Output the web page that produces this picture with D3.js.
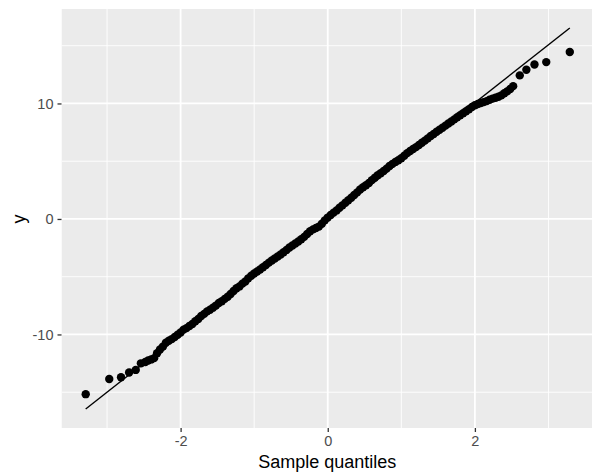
<!DOCTYPE html>
<html>
<head>
<meta charset="utf-8">
<script src="https://cdn.jsdelivr.net/npm/d3@7"></script>
<style>
  html, body { margin: 0; padding: 0; background: #ffffff; }
  svg { display: block; }
  text { font-family: "Liberation Sans", Arial, Helvetica, sans-serif; }
</style>
</head>
<body>
<svg id="chart" width="592" height="476"></svg>
<script>
// Theoretical quantiles (x) and sample values (y)
const theoretical = [
  -3.29, -2.97, -2.81, -2.70, -2.61, -2.54,
  -2.48, -2.44, -2.40, -2.36, -2.32, -2.28, -2.24, -2.20, -2.16, -2.12,
  -2.08, -2.04, -2.00, -1.96, -1.92, -1.88, -1.84, -1.80, -1.76, -1.72,
  -1.68, -1.64, -1.60, -1.56, -1.52, -1.48, -1.44, -1.40, -1.36, -1.32,
  -1.28, -1.24, -1.20, -1.16, -1.12, -1.08, -1.04, -1.00, -0.96, -0.92,
  -0.88, -0.84, -0.80, -0.76, -0.72, -0.68, -0.64, -0.60, -0.56, -0.52,
  -0.48, -0.44, -0.40, -0.36, -0.32, -0.28, -0.24, -0.20, -0.16, -0.12,
  -0.08, -0.04, 0.00, 0.04, 0.08, 0.12, 0.16, 0.20, 0.24, 0.28,
  0.32, 0.36, 0.40, 0.44, 0.48, 0.52, 0.56, 0.60, 0.64, 0.68,
  0.72, 0.76, 0.80, 0.84, 0.88, 0.92, 0.96, 1.00, 1.04, 1.08,
  1.12, 1.16, 1.20, 1.24, 1.28, 1.32, 1.36, 1.40, 1.44, 1.48,
  1.52, 1.56, 1.60, 1.64, 1.68, 1.72, 1.76, 1.80, 1.84, 1.88,
  1.92, 1.96, 2.00, 2.04, 2.08, 2.12, 2.16, 2.20, 2.24, 2.28,
  2.32, 2.36, 2.40, 2.44, 2.48, 2.52,
  2.61, 2.70, 2.81, 2.97, 3.29
];
const sample = [
  -15.17, -13.85, -13.70, -13.30, -13.07, -12.50,
  -12.38, -12.25, -12.16, -12.05, -11.62, -11.30, -11.05, -10.72, -10.55, -10.40,
  -10.22, -10.02, -9.83, -9.58, -9.45, -9.27, -9.10, -8.85, -8.66, -8.40,
  -8.22, -8.00, -7.86, -7.68, -7.50, -7.28, -7.12, -6.92, -6.74, -6.50,
  -6.24, -6.00, -5.84, -5.60, -5.42, -5.14, -4.92, -4.72, -4.55, -4.38,
  -4.18, -3.98, -3.78, -3.60, -3.42, -3.25, -3.08, -2.88, -2.68, -2.47,
  -2.30, -2.12, -1.95, -1.76, -1.55, -1.30, -1.06, -0.90, -0.78, -0.66,
  -0.42, -0.12, 0.12, 0.35, 0.55, 0.74, 0.97, 1.18, 1.40, 1.62,
  1.84, 2.08, 2.30, 2.55, 2.74, 2.92, 3.12, 3.36, 3.57, 3.78,
  3.96, 4.15, 4.36, 4.58, 4.77, 4.94, 5.08, 5.26, 5.48, 5.70,
  5.88, 6.06, 6.22, 6.40, 6.60, 6.78, 6.98, 7.18, 7.36, 7.55,
  7.72, 7.90, 8.08, 8.26, 8.44, 8.62, 8.80, 8.98, 9.16, 9.32,
  9.50, 9.70, 9.84, 9.95, 10.04, 10.12, 10.20, 10.32, 10.42, 10.50,
  10.58, 10.70, 10.88, 11.05, 11.25, 11.50,
  12.43, 12.92, 13.38, 13.58, 14.45
];
// Reference line endpoints (qq line)
const lineX = [-3.29, 3.29];
const lineY = [-16.45, 16.53];
// Tick labels
const xTicks = [-2, 0, 2];
const yTicks = [-10, 0, 10];
const xMinor = [-3, -1, 1, 3];
const yMinor = [-15, -5, 5, 15];
const xTitle = "Sample quantiles";
const yTitle = "y";

const svg = d3.select("#chart");
const panel = { left: 61.5, right: 594, top: 9, bottom: 428 };

function expand(ext, f) {
  const d = (ext[1] - ext[0]) * f;
  return [ext[0] - d, ext[1] + d];
}
const xExt = d3.extent(theoretical.concat(lineX));
const yExt = d3.extent(sample.concat(lineY));
const x = d3.scaleLinear().domain(expand(xExt, 0.05)).range([panel.left, panel.right]);
const y = d3.scaleLinear().domain(expand(yExt, 0.05)).range([panel.bottom, panel.top]);

svg.append("defs").append("clipPath").attr("id", "pclip")
  .append("rect")
  .attr("x", panel.left).attr("y", panel.top)
  .attr("width", panel.right - panel.left).attr("height", panel.bottom - panel.top);

const g = svg.append("g").attr("clip-path", "url(#pclip)");
g.append("rect")
  .attr("x", panel.left).attr("y", panel.top)
  .attr("width", panel.right - panel.left).attr("height", panel.bottom - panel.top)
  .attr("fill", "#EBEBEB");

// minor grid
g.selectAll(".xminor").data(xMinor).join("line")
  .attr("x1", d => x(d)).attr("x2", d => x(d))
  .attr("y1", panel.top).attr("y2", panel.bottom)
  .attr("stroke", "#ffffff").attr("stroke-width", 0.9);
g.selectAll(".yminor").data(yMinor).join("line")
  .attr("y1", d => y(d)).attr("y2", d => y(d))
  .attr("x1", panel.left).attr("x2", panel.right)
  .attr("stroke", "#ffffff").attr("stroke-width", 0.9);
// major grid
g.selectAll(".xmajor").data(xTicks).join("line")
  .attr("x1", d => x(d)).attr("x2", d => x(d))
  .attr("y1", panel.top).attr("y2", panel.bottom)
  .attr("stroke", "#ffffff").attr("stroke-width", 1.8);
g.selectAll(".ymajor").data(yTicks).join("line")
  .attr("y1", d => y(d)).attr("y2", d => y(d))
  .attr("x1", panel.left).attr("x2", panel.right)
  .attr("stroke", "#ffffff").attr("stroke-width", 1.8);

// points
const pts = theoretical.map((t, i) => ({ t, s: sample[i] }));
g.selectAll("circle.pt").data(pts).join("circle")
  .attr("class", "pt")
  .attr("cx", d => x(d.t)).attr("cy", d => y(d.s))
  .attr("r", 4.2).attr("fill", "#000000");

// qq line
g.append("path")
  .datum(lineX.map((v, i) => [v, lineY[i]]))
  .attr("d", d3.line().x(d => x(d[0])).y(d => y(d[1])))
  .attr("fill", "none").attr("stroke", "#000000").attr("stroke-width", 1.4);

// axes
const xAxis = svg.append("g").attr("transform", `translate(0,${panel.bottom})`)
  .call(d3.axisBottom(x).tickValues(xTicks).tickSize(4).tickPadding(4).tickFormat(d3.format("d")));
const yAxis = svg.append("g").attr("transform", `translate(${panel.left},0)`)
  .call(d3.axisLeft(y).tickValues(yTicks).tickSize(4).tickPadding(4).tickFormat(d3.format("d")));
[xAxis, yAxis].forEach(a => {
  a.select(".domain").remove();
  a.selectAll(".tick line").attr("stroke", "#333333").attr("stroke-width", 1.3);
  a.selectAll(".tick text").attr("fill", "#4D4D4D").style("font-size", "14.5px")
    .style("font-family", '"Liberation Sans", Arial, sans-serif');
});
yAxis.selectAll(".tick text").text(d => d < 0 ? "-" + Math.abs(d) : d);
xAxis.selectAll(".tick text").text(d => d < 0 ? "-" + Math.abs(d) : d);

// titles
svg.append("text")
  .attr("x", (panel.left + 592) / 2 + 0.5).attr("y", 468)
  .attr("text-anchor", "middle").attr("fill", "#000000")
  .style("font-size", "18px").text(xTitle);
svg.append("text")
  .attr("transform", "translate(25,219) rotate(-90)")
  .attr("text-anchor", "middle").attr("fill", "#000000")
  .style("font-size", "18px").text(yTitle);
</script>
</body>
</html>
